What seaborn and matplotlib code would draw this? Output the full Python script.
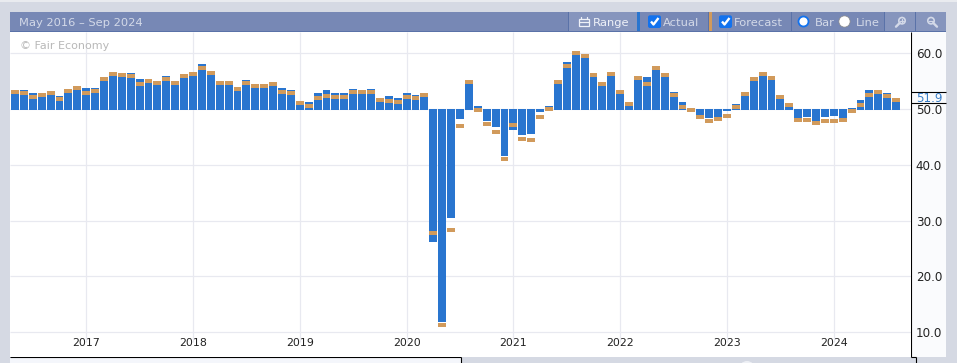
import numpy as np
import pandas as pd
import matplotlib
matplotlib.use("Agg")
import matplotlib.pyplot as plt
from matplotlib.patches import Rectangle, Circle, FancyBboxPatch
import seaborn as sns

actual = [52.7,53.4,52.9,52.3,52.6,52.3,53.0,53.5,53.8,53.8,55.1,56.0,55.8,56.5,55.4,54.7,54.4,55.9,54.4,55.6,
          56.0,58.1,56.2,54.4,54.4,53.2,55.2,53.8,53.8,54.2,53.8,53.4,50.7,51.3,52.9,53.4,52.9,52.9,53.6,52.8,
          53.6,51.3,52.3,52.0,52.9,52.5,52.2,26.2,11.9,30.4,48.2,54.5,50.5,47.85,46.8,41.6,46.2,45.3,45.5,49.5,
          50.5,54.5,58.4,59.7,59.2,55.8,54.2,56.0,52.7,50.5,55.2,55.7,57.0,55.8,53.05,51.25,50.0,48.9,48.4,48.55,
          49.65,50.9,52.3,55.0,56.0,55.3,51.8,50.3,48.4,48.55,47.85,48.55,48.7,48.4,50.2,51.6,53.4,52.8,52.9,51.3]
forecast = [53.05,52.9,52.15,52.5,52.9,51.8,53.2,53.8,52.9,53.2,55.4,56.3,56.1,55.9,54.5,55.0,54.7,55.4,54.7,55.9,
            56.3,57.4,56.5,54.7,54.7,53.6,54.7,54.1,54.1,54.5,53.05,52.9,51.1,50.5,52.0,52.3,52.15,52.15,53.05,53.05,
            53.05,51.6,51.45,51.25,52.15,52.0,52.5,27.8,11.3,28.3,46.95,54.85,49.8,47.3,45.9,41.0,47.1,44.6,44.4,48.6,
            50.0,54.85,57.7,60.05,59.5,56.1,54.5,56.3,53.05,50.9,55.6,54.5,57.4,56.1,52.5,50.4,49.8,48.55,47.85,48.2,
            48.75,50.35,52.7,55.4,56.3,55.6,52.15,50.7,48.0,48.0,47.5,47.85,47.85,48.0,49.65,50.7,52.5,53.05,52.3,51.6]
years = ["2017","2018","2019","2020","2021","2022","2023","2024"]
year_start_index = [8,20,32,44,56,68,80,92]
y_ticks = [10,20,30,40,50,60]
latest = 51.9
title = "May 2016 \u2013 Sep 2024"

W, H = 957, 363
BG = "#d5d9e3"; HEAD = "#7788b5"; HEAD2 = "#8695bd"; EDGE = "#5a72a8"
BLUE = "#2975cf"; TAN = "#d19a5b"; GRID = "#e8e9f0"; TXT = "#222222"; HT = "#d3d9e8"

sns.set_theme(style="white")
plt.rcParams["font.family"] = ["DejaVu Sans"]
fig = plt.figure(figsize=(W/100, H/100), dpi=100, facecolor=BG)

c = fig.add_axes([0, 0, 1, 1], zorder=0)
c.set_xlim(0, W); c.set_ylim(H, 0); c.axis("off")
def box(x0, y0, x1, y1, col, **k):
    c.add_patch(Rectangle((x0, y0), x1-x0, y1-y0, fc=col, ec="none", **k))
box(0, 0, W, 2, "#e9ebef")
box(10, 32, 946, 357, "#fafbfd")
box(10, 358, 461, H, "#f4f6fb")
box(911, 357, 946, 358, BG)
box(10, 12, 946, 31, HEAD)
box(10, 31, 946, 32, EDGE)
box(569, 12, 637, 31, HEAD2)
box(568, 12, 569, 31, EDGE)
box(637, 12, 640, 31, BLUE)
box(708, 12, 709, 31, EDGE)
box(709, 12, 712, 31, TAN)
box(791, 12, 792, 31, EDGE)
box(884, 12, 946, 31, HEAD2); box(884, 12, 885, 31, EDGE); box(915, 12, 916, 31, EDGE)
box(461, 357, 911, H, BG)
c.plot([10, 461], [357, 357], color="black", lw=0.8, solid_capstyle="butt", zorder=6)
c.plot([461, 461], [357, H], color="black", lw=0.8, solid_capstyle="butt")
c.plot([911, 911], [32, 357], color="black", lw=0.8, solid_capstyle="butt", zorder=6)
c.plot([911, 916], [357, 357], color="black", lw=0.8, solid_capstyle="butt")
c.plot([916, 916], [357, H], color="black", lw=0.8, solid_capstyle="butt")
for yy in (92, 103):
    c.plot([911, 946], [yy, yy], color="black", lw=0.8, solid_capstyle="butt")
c.text(19, 23, title, color=HT, fontsize=8.25, va="center", ha="left")
c.text(593, 23, "Range", color="#eef1f8", fontsize=8.25, va="center", ha="left")
c.text(663, 23, "Actual", color=HT, fontsize=8.25, va="center", ha="left")
c.text(734, 23, "Forecast", color=HT, fontsize=8.25, va="center", ha="left")
c.text(815, 23, "Bar", color=HT, fontsize=8.25, va="center", ha="left")
c.text(856, 23, "Line", color=HT, fontsize=8.25, va="center", ha="left")
c.text(929, 99, f"{latest:.1f}", color="#3a7fc9", fontsize=8.6, va="center", ha="center")
c.add_patch(Rectangle((579, 19), 9.5, 7, fc="none", ec="#eef1f8", lw=0.9))
c.plot([579, 588.5], [22, 22], color="#eef1f8", lw=0.9)
c.plot([581, 581], [16.5, 19], color="#eef1f8", lw=0.9); c.plot([586.5, 586.5], [16.5, 19], color="#eef1f8", lw=0.9)
for x0 in (648, 719):
    c.add_patch(FancyBboxPatch((x0, 15.3), 13, 12.7, boxstyle="round,pad=0,rounding_size=2", fc="#1272ee", ec="none"))
    c.plot([x0+3, x0+5.5, x0+10.5], [21.5, 24.5, 18], color="white", lw=1.7, solid_capstyle="butt")
c.add_patch(Circle((803.5, 21.5), 5, fc="white", ec="#1272ee", lw=1.3))
c.add_patch(Circle((844.5, 21.5), 5.6, fc="white", ec="#8a8a8a", lw=0.5))
for cx, cy, plus in ((902, 20.7, True), (931, 20.7, False)):
    c.add_patch(Circle((cx, cy), 3.2, fc="none", ec="#d3d9e8", lw=1.2))
    c.plot([cx+(-2.3 if plus else 2.3), cx+(-6 if plus else 6)], [cy+2.3, cy+6], color="#d3d9e8", lw=1.7)
    c.plot([cx-1.8, cx+1.8], [cy, cy], color="#d3d9e8", lw=0.9)
    if plus:
        c.plot([cx, cx], [cy-1.8, cy+1.8], color="#d3d9e8", lw=0.9)
c.add_patch(Circle((747, 369), 8, fc="#eef0f5", ec="none"))
c.add_patch(Circle((787, 367), 4, fc="#eef0f5", ec="none"))
c.add_patch(Circle((557, 368), 5, fc="#e2e5ec", ec="none"))
c.add_patch(Circle((187, 368), 5, fc="#e6e8ee", ec="none"))

L, R, T, B = 10, 911, 32, 357
ax = fig.add_axes([L/W, 1-B/H, (R-L)/W, (B-T)/H], zorder=1, facecolor="white")
x_step, x_first = 8.9, 15.0
y_step, y_50 = 5.58, 109.0
idx = np.arange(len(actual))
act = np.array(actual); fc = np.array(forecast)
base = np.where(act >= 50, 49.85, 50.0)
df = pd.DataFrame({"i": idx, "bar": act-base, "band": np.full(len(idx), 0.72)})
bar_w = (x_step-1)/x_step

ax.set_axisbelow(True)
sns.barplot(data=df, x="i", y="bar", native_scale=True, width=bar_w, color=BLUE, saturation=1,
            bottom=base, linewidth=0, ax=ax, zorder=3)
sns.barplot(data=df, x="i", y="band", native_scale=True, width=bar_w, color=TAN, saturation=1,
            bottom=fc-0.36, linewidth=0, ax=ax, zorder=4)

ax.set_xlim((L-x_first)/x_step, (R-x_first)/x_step)
ax.set_ylim(50-(B-y_50)/y_step, 50+(y_50-T)/y_step)
ax.set_xlabel(""); ax.set_ylabel("")
for s in ax.spines.values():
    s.set_visible(False)
ax.hlines(y_ticks, *ax.get_xlim(), color=GRID, lw=0.9, zorder=1)
ax.vlines(year_start_index, 50-(342-y_50)/y_step, ax.get_ylim()[1], color=GRID, lw=0.9, zorder=1)
ax.set_xticks(year_start_index, years)
ax.tick_params(axis="x", length=0, pad=-13.5, labelsize=7.9, colors=TXT)
for t in ax.get_xticklabels():
    t.set_va("top")
ax.yaxis.tick_right()
ax.set_yticks(y_ticks, [f"{v:.1f}" for v in y_ticks])
ax.tick_params(axis="y", length=0, pad=3.5, labelsize=8.6, colors=TXT)
ax.grid(False)
ax.text((19.7-L)/(R-L), 1-(46.3-T)/(B-T), "\u00a9 Fair Economy", transform=ax.transAxes,
        color="#b8b8b8", fontsize=8.05, va="center", ha="left", zorder=5)
fig.savefig("out.png", dpi=100, facecolor=BG)
